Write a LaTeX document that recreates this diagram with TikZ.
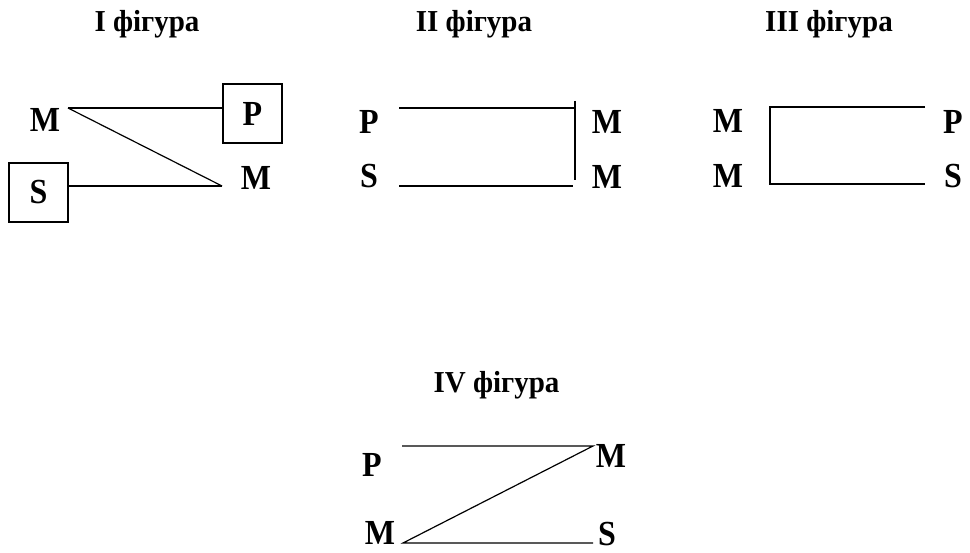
\documentclass[tikz,border=0pt]{standalone}
\usepackage{fontspec}
\setmainfont{Liberation Serif}
\newcommand{\tallr}[1]{\scalebox{1}[1.1]{#1}}
\newcommand{\tallt}[1]{\scalebox{1}[1.05]{#1}}
\begin{document}
\begin{tikzpicture}[x=1pt,y=-1pt,
  ttl/.style={anchor=base,font=\fontsize{29}{34}\selectfont\bfseries,inner sep=0pt},
  ltr/.style={font=\fontsize{32}{36}\selectfont\bfseries,inner sep=0pt},
  boxed/.style={draw,line width=1.2pt,minimum size=59pt,inner sep=0pt,font=\fontsize{32}{36}\selectfont\bfseries},
  ln/.style={line width=1.2pt}]
\useasboundingbox (0,0) rectangle (970,553);
% titles
\node[ttl] (t1) at (147,32) {\tallt{I фігура}};
\node[ttl] (t2) at (474,32) {\tallt{II фігура}};
\node[ttl] (t3) at (829,32) {\tallt{III фігура}};
\node[ttl] (t4) at (496.5,393) {\tallt{IV фігура}};
% Figure I
\node[ltr] (m1a) at (45,120) {\tallr{M}};
\node[boxed] (p1) at (252.5,113.5) {\tallr{P}};
\node[ltr] (m1b) at (256,177.5) {\tallr{M}};
\node[boxed] (s1) at (38.5,192.5) {\tallr{S}};
\coordinate (a1) at (68,108);
\coordinate (b1) at (222,186);
\draw[ln] (a1) -- (a1 -| p1.west);
\draw[ln] (a1) -- (b1);
\draw[ln] (b1) -- (b1 -| s1.east);
% Figure II
\node[ltr] (p2) at (369,122) {\tallr{P}};
\node[ltr] (s2) at (369,176) {\tallr{S}};
\node[ltr] (m2a) at (607,122) {\tallr{M}};
\node[ltr] (m2b) at (607,177) {\tallr{M}};
\coordinate (a2) at (399,108);
\coordinate (b2) at (575,108);
\coordinate (c2) at (399,186);
\coordinate (d2) at (573,186);
\coordinate (v2t) at (575,101);
\coordinate (v2b) at (575,180);
\draw[ln] (a2) -- (b2);
\draw[ln] (c2) -- (d2);
\draw[ln] (v2t) -- (v2b);
% Figure III
\node[ltr] (m3a) at (728,121) {\tallr{M}};
\node[ltr] (m3b) at (728,176) {\tallr{M}};
\node[ltr] (p3) at (953,122) {\tallr{P}};
\node[ltr] (s3) at (953,176) {\tallr{S}};
\coordinate (a3) at (925,107);
\coordinate (b3) at (770,107);
\coordinate (c3) at (770,184);
\coordinate (d3) at (925,184);
\draw[ln] (a3) -- (b3) -- (c3) -- (d3);
% Figure IV
\node[ltr] (p4) at (372,465) {\tallr{P}};
\node[ltr] (m4a) at (611,456) {\tallr{M}};
\node[ltr] (m4b) at (380,533) {\tallr{M}};
\node[ltr] (s4) at (607,534) {\tallr{S}};
\coordinate (a4) at (402,446);
\coordinate (b4) at (593,446);
\coordinate (c4) at (403,543);
\coordinate (d4) at (593,543);
\draw[ln] (a4) -- (b4) -- (c4) -- (d4);
\end{tikzpicture}
\end{document}
